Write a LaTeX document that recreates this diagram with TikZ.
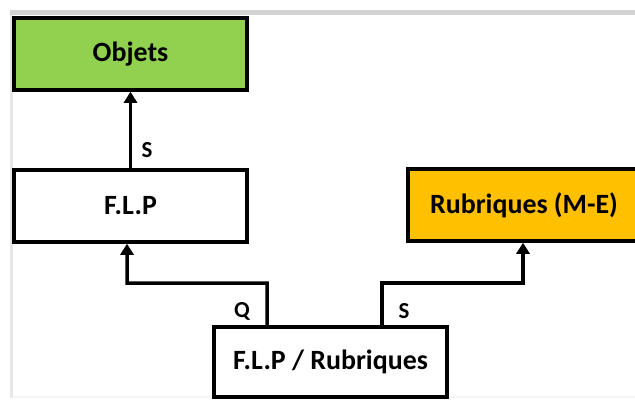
\documentclass[tikz,border=0pt]{standalone}
\usepackage{fontspec}
\setmainfont{Carlito}
\usetikzlibrary{arrows.meta}
\definecolor{boxgreen}{HTML}{92D050}
\definecolor{boxorange}{HTML}{FFC000}
\begin{document}
\begin{tikzpicture}[x=1bp,y=1bp,
  box/.style={draw=black, line width=3.5bp, minimum width=233bp, minimum height=72bp,
    inner sep=0pt, font=\fontsize{28}{32}\selectfont\bfseries},
  conn/.style={draw=black, line width=3.5bp, -{Triangle[width=13bp,length=11bp]}},
  lbl/.style={inner sep=0pt, font=\fontsize{23}{26}\selectfont\bfseries}]
  \useasboundingbox (0,0) rectangle (635,401);
  \clip (0,0) rectangle (635,401);
  % faint frame around the sheet
  \fill[gray!8] (10,3) rectangle (635,5);
  \fill[gray!18] (10,3) rectangle (13,391);
  \fill[gray!35] (10,386) rectangle (635,391);
  % boxes
  \node[box, fill=boxgreen] (obj) at (130.5,347) {Objets};
  \node[box, fill=white] (flp) at (130.5,195) {F.L.P};
  \node[box, fill=boxorange, minimum width=232bp] (rub) at (524,196) {Rubriques (M-E)};
  \node[box, fill=white, minimum height=70bp] (fr) at (330.5,39) {F.L.P / Rubriques};
  % connectors
  \draw[conn] (flp.north) -- (obj.south);
  \draw[conn] ([xshift=-63.5bp]fr.north) |- (127,118) -- ([xshift=-3.5bp]flp.south);
  \draw[conn] ([xshift=51.5bp]fr.north) |- (523,118) -- ([xshift=-1bp]rub.south);
  % connector labels
  \node[lbl] (s1) at (147,251) {S};
  \node[lbl] (q) at (242,90) {Q};
  \node[lbl] (s2) at (404,90) {S};
\end{tikzpicture}
\end{document}
